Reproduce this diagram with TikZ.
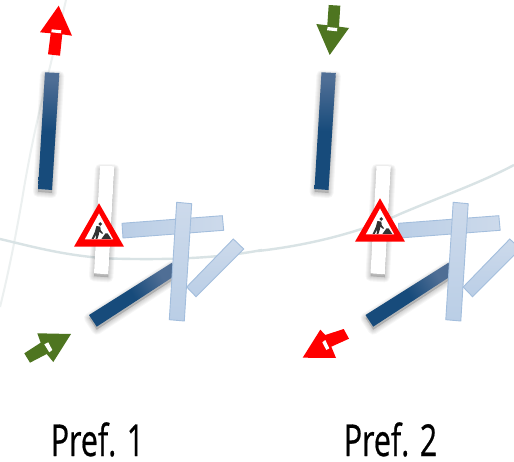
\documentclass[tikz,border=0pt]{standalone}
\usepackage{fontspec}
\setmainfont{Open Sans}
\newfontfamily\capfont{Open Sans}[FakeBold=0.7]
\definecolor{barblue}{HTML}{174B7B}
\definecolor{barfadeblue}{HTML}{4F6E95}
\definecolor{lightedge}{HTML}{A3BEDD}
\definecolor{lightA}{HTML}{BACEE6}
\definecolor{lightB}{HTML}{CDDAEB}
\definecolor{roadgrey}{HTML}{D9E3E5}
\definecolor{roadpale}{HTML}{ECF0F0}
\definecolor{signred}{HTML}{FF0000}
\definecolor{arrowgreen}{HTML}{4E7520}
\definecolor{worker}{HTML}{333333}
\pgfdeclareverticalshading{barfade}{100bp}{color(0bp)=(barblue); color(50bp)=(barblue); color(72bp)=(barfadeblue); color(100bp)=(barfadeblue)}
\tikzset{
  road/.style={draw=roadgrey,line width=2.4pt},
  roadfaint/.style={draw=roadpale,line width=2pt},
  softshadow/.style={draw=black,fill=black,opacity=.035,line join=round},
  darkbar/.style={shading=barfade},
  whitebar/.style={fill=white},
  lightbar/.style={draw=lightedge,line width=.9pt,left color=lightA,right color=lightB},
  lightbarv/.style={draw=lightedge,line width=.9pt,top color=lightB,bottom color=lightA},
  redarrow/.style={fill=signred},
  greenarrow/.style={fill=arrowgreen},
  slit/.style={fill=white},
  caption/.style={font=\capfont\fontsize{44}{44}\selectfont,anchor=base,inner sep=0pt,xscale=.69},
}
\newcommand\softshadowof[1]{%
  \foreach \w in {10,8,6,4,2}{\path[softshadow,line width=\w pt,shift={(0,3)}] #1;}%
}
\newcommand\crossing{%
  \softshadowof{(100,166) -- (114.3,166.3) -- (108.3,274.3) -- (94,273.3) -- cycle}
  \path[whitebar] (100,166) -- (114.3,166.3) -- (108.3,274.3) -- (94,273.3) -- cycle;
  \softshadowof{(45,72.3) -- (59.3,73) -- (52,190) -- (38,189) -- cycle}
  \path[darkbar] (45,72.3) -- (59.3,73) -- (52,190) -- (38,189) -- cycle;
  \softshadowof{(89,315) -- (172,262.7) -- (176,275) -- (96.7,326.7) -- cycle}
  \path[darkbar,shading angle=-60] (89,315) -- (172,262.7) -- (176,275) -- (96.7,326.7) -- cycle;
  \path[lightbar] (122,223.3) -- (222.3,215.7) -- (223.7,230.3) -- (123,238) -- cycle;
  \path[lightbar,top color=lightB,bottom color=lightA] (233.3,239) -- (243.7,249) -- (196,296.7) -- (186.7,287) -- cycle;
  \path[lightbarv] (176.7,202.3) -- (191.7,203.7) -- (184.3,321) -- (169.3,319.7) -- cycle;
}
\newcommand\worksign[1]{%
  \begin{scope}[shift={(#1)}]
    \fill[signred] (99,203.3) -- (124,246.7) -- (74,246.7) -- cycle;
    \fill[white] (99,213.5) -- (113.2,239.4) -- (84.8,239.4) -- cycle;
    \fill[worker] (100.2,224) circle (1.9);
    \fill[worker] (96.4,226) -- (100.4,226.6) -- (100.6,230) -- (103,233.2) -- (102.2,234) -- (99.4,231.6) -- (98.8,234.6) -- (97.4,239) -- (95.6,239) -- (96.4,234.4) -- (93.6,239) -- (91.6,239) -- (94.8,232) -- cycle;
    \fill[worker] (101.4,239) -- (105.4,233.4) -- (107.6,233.4) -- (111.4,239) -- cycle;
  \end{scope}
}
\begin{document}
\begin{tikzpicture}[x=1pt,y=-1pt]
\clip (0,0) rectangle (514,462);
\useasboundingbox (0,0) rectangle (514,462);
\fill[white] (0,0) rectangle (514,462);

% background roads
\path[roadfaint] (66,0) .. controls (50,70) and (35,120) .. (22,200) .. controls (15,240) and (8,275) .. (0,307);
\path[road] (0,239) .. controls (30,246) and (65,256) .. (110,258.5) .. controls (160,260) and (215,259) .. (262,250);
\path[road] (258,251) .. controls (320,244) and (370,228) .. (400,214) .. controls (440,197) and (480,183) .. (514,165);

% left group
\crossing
\worksign{0,0}
\path[redarrow] (58.7,5.7) -- (72,35.7) -- (62.3,34.3) -- (60,55.7) -- (48,54.3) -- (50.7,33.3) -- (40,32.3) -- cycle;
\path[slit] (51.7,29.3) -- (61.3,30.3) -- (61,33.3) -- (51.3,32.3) -- cycle;
\path[greenarrow] (71,334) -- (53.3,362) -- (46.7,354) -- (30,362.7) -- (24.3,353.3) -- (40.7,342.7) -- (37.3,333.3) -- cycle;
\path[slit] (48.3,342.3) -- (52.3,350) -- (49.3,352.3) -- (44.3,344.3) -- cycle;

% right group
\begin{scope}[xshift=276.5pt]
  \crossing
\end{scope}
\worksign{281,-5}
\path[greenarrow] (329.7,55) -- (349,28) -- (339,26.7) -- (340.3,5.7) -- (328.7,5) -- (327.3,25.3) -- (316.3,24) -- cycle;
\path[slit] (327.7,27) -- (337.3,28) -- (337,31.3) -- (327,30.3) -- cycle;
\path[redarrow] (302.7,357.7) -- (320.3,329.7) -- (325.3,335) -- (343.7,329) -- (349,338.7) -- (331.3,346.7) -- (336,358) -- cycle;
\path[slit] (325.3,340) -- (329.3,348.3) -- (326.3,350) -- (322.3,342.3) -- cycle;

% captions
\node[caption] (prefone) at (97.5,456) {Pref. 1};
\node[caption] (preftwo) at (390.5,456) {Pref. 2};
\end{tikzpicture}
\end{document}
